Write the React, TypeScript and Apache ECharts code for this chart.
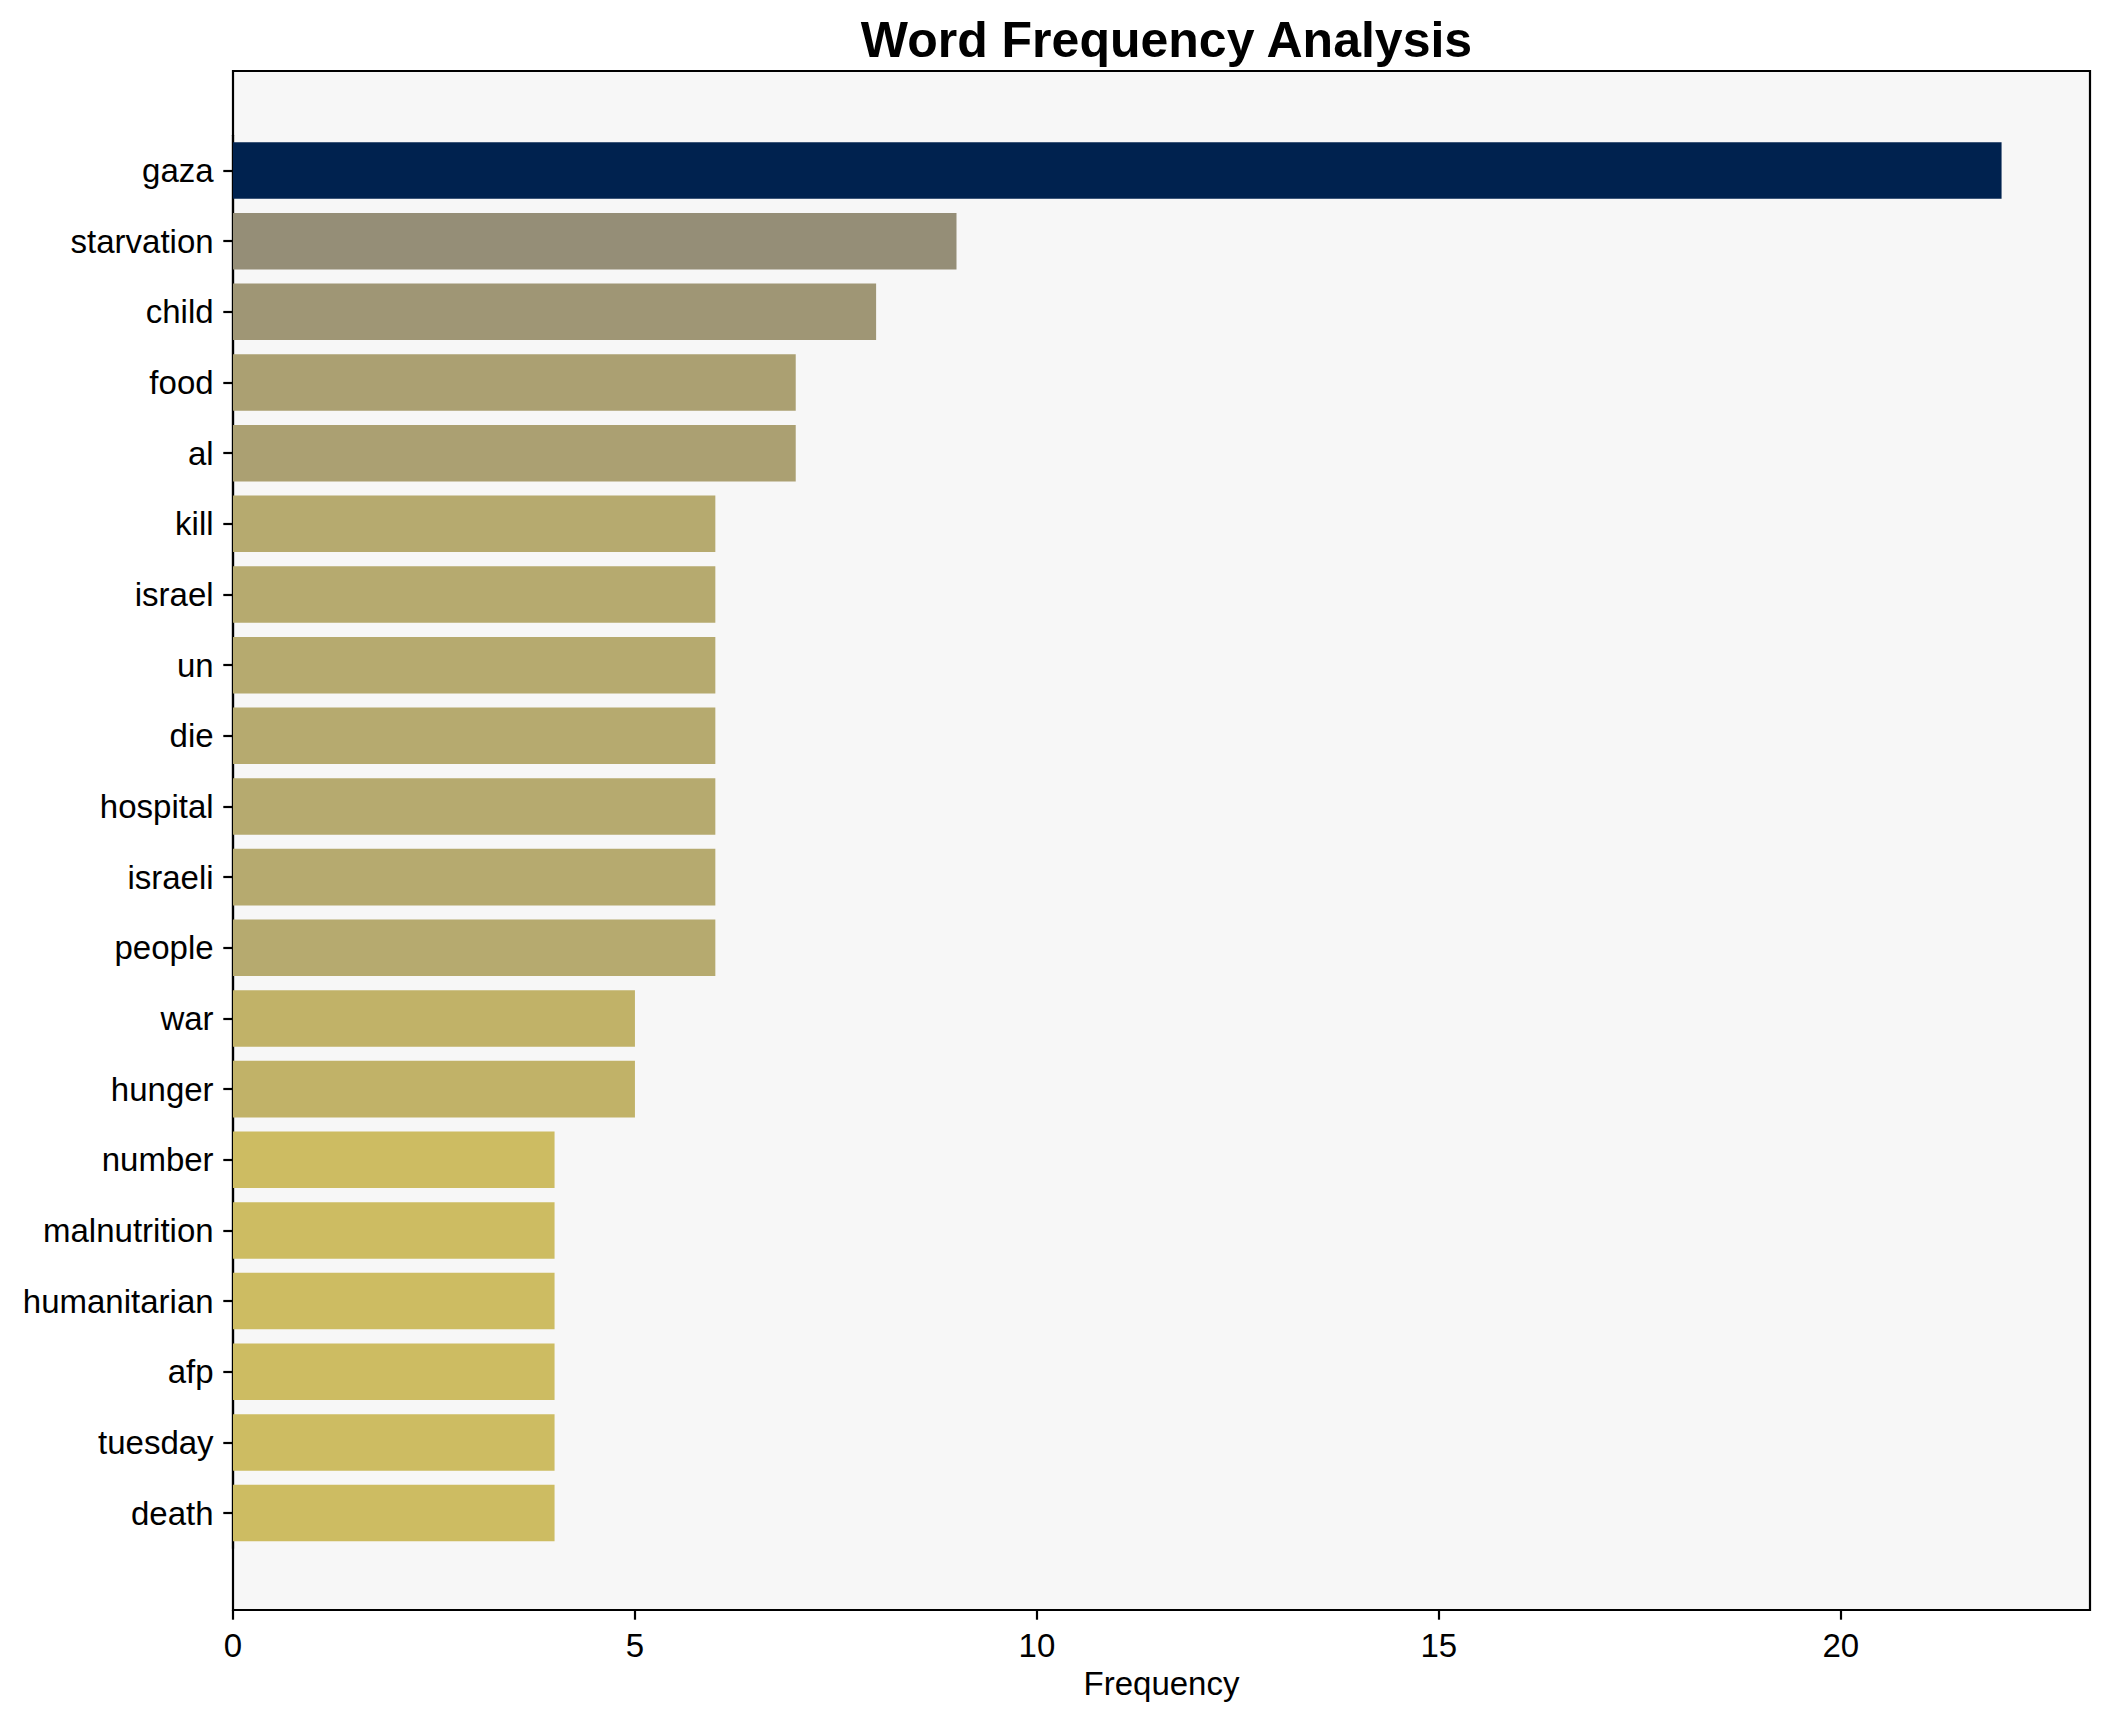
import React, { useEffect, useRef } from "react";
import * as echarts from "echarts";

const words = [
  "gaza", "starvation", "child", "food", "al", "kill", "israel", "un", "die", "hospital",
  "israeli", "people", "war", "hunger", "number", "malnutrition", "humanitarian", "afp", "tuesday", "death",
];
const counts = [22, 9, 8, 7, 7, 6, 6, 6, 6, 6, 6, 6, 5, 5, 4, 4, 4, 4, 4, 4];
const xTicks = [0, 5, 10, 15, 20];

const colorByCount: Record<number, string> = {
  22: "#00224f",
  9: "#958e77",
  8: "#9f9675",
  7: "#aba072",
  6: "#b6aa6f",
  5: "#c1b268",
  4: "#cdbc62",
};

const W = 2112;
const H = 1722;
const PL = 233;
const PR = 2090;
const PT = 71;
const PB = 1610;
const XMAX = 23.1;
const FONT = "'Liberation Sans', Arial, sans-serif";

export default function App() {
  const ref = useRef<HTMLDivElement>(null);
  useEffect(() => {
    document.body.style.margin = "0";
    const chart = echarts.init(ref.current!, null, { renderer: "svg" });
    const n = words.length;
    // matplotlib: data span = (n-1) + 0.8, margins 5% each side
    const span = n - 1 + 0.8;
    const total = span * 1.1;
    const px = (PB - PT) / total;
    const inset = (0.4 + span * 0.05 - 0.5) * px;
    const tickStyle = { show: true, inside: false, length: 9.7, lineStyle: { color: "#000", width: 2.2 } };
    chart.setOption({
      animation: false,
      backgroundColor: "#ffffff",
      textStyle: { fontFamily: FONT },
      title: {
        text: "Word Frequency Analysis",
        left: (PL + PR) / 2,
        textAlign: "center",
        top: 10,
        textStyle: { fontSize: 50, fontWeight: "bold", color: "#000", fontFamily: FONT },
      },
      grid: [
        {
          left: PL,
          top: PT,
          width: PR - PL,
          height: PB - PT,
          show: true,
          backgroundColor: "#f7f7f7",
          borderColor: "#000",
          borderWidth: 2.2,
        },
        {
          left: PL,
          top: PT + inset + 1.3,
          width: PR - PL,
          height: PB - PT - 2 * inset,
        },
      ],
      xAxis: [
        {
          type: "value",
          gridIndex: 0,
          min: 0,
          max: XMAX,
          interval: 5,
          axisLine: { show: true, lineStyle: { color: "#000", width: 2.2 } },
          axisTick: tickStyle,
          splitLine: { show: false },
          axisLabel: {
            fontSize: 33,
            color: "#000",
            margin: 19.4,
            fontFamily: FONT,
            showMaxLabel: false,
            formatter: (v: number) => (xTicks.includes(v) ? String(v) : ""),
          },
          name: "Frequency",
          nameLocation: "middle",
          nameGap: 56,
          nameTextStyle: { fontSize: 33, color: "#000", fontFamily: FONT, verticalAlign: "top" },
        },
        {
          type: "value",
          gridIndex: 1,
          min: 0,
          max: XMAX,
          show: false,
        },
      ],
      yAxis: [
        {
          type: "value",
          gridIndex: 0,
          show: false,
        },
        {
          type: "category",
          gridIndex: 1,
          data: words,
          inverse: true,
          axisLine: { show: true, lineStyle: { color: "#000", width: 2.2 } },
          axisTick: { ...tickStyle, alignWithLabel: true },
          axisLabel: { fontSize: 33, color: "#000", margin: 19.4, fontFamily: FONT },
          splitLine: { show: false },
        },
      ],
      series: [
        {
          type: "bar",
          xAxisIndex: 1,
          yAxisIndex: 1,
          barCategoryGap: "20%",
          data: counts.map((c) => ({ value: c, itemStyle: { color: colorByCount[c] } })),
        },
      ],
    });
    return () => chart.dispose();
  }, []);
  return <div ref={ref} style={{ width: W, height: H }} />;
}
